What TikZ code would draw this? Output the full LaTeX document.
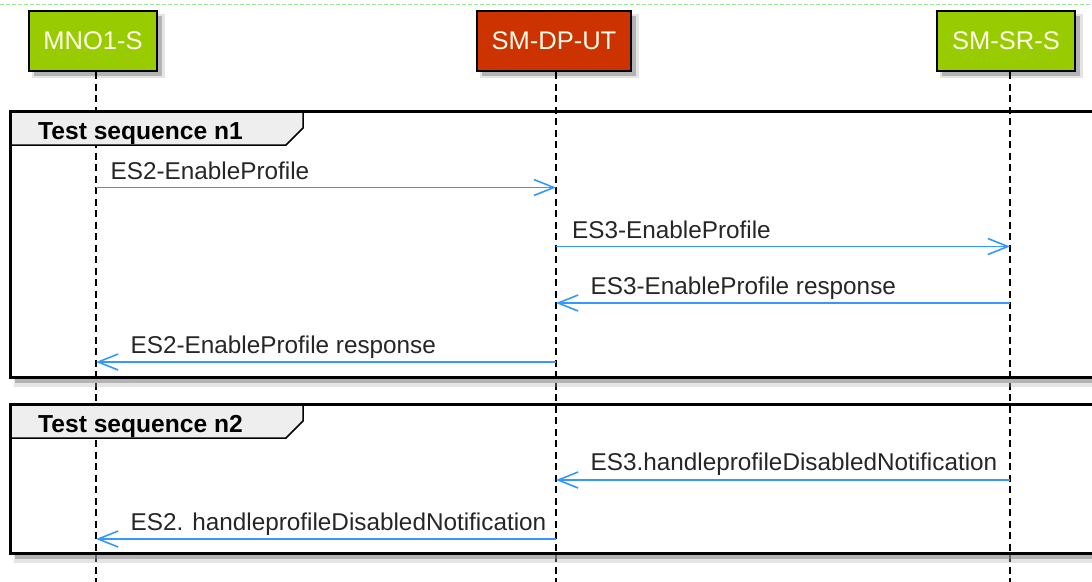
\documentclass[tikz,border=0pt]{standalone}
\usepackage{fontspec}
\setmainfont{Liberation Sans}
\usetikzlibrary{arrows.meta}
\definecolor{pgreen}{HTML}{99CC00}
\definecolor{pred}{HTML}{CC3300}
\definecolor{msgblue}{HTML}{3399FF}
\definecolor{tabgray}{HTML}{EEEEEE}
\definecolor{topgreen}{HTML}{9BE89B}
\tikzset{
  x=1pt, y=-1pt,
  participant/.style={draw=black, line width=2pt, minimum height=60pt, inner sep=0pt, text=white!92!yellow, font=\fontsize{25.5}{28}\selectfont},
  lifeline/.style={draw=black, line width=1.5pt, dash pattern=on 7pt off 4.5pt},
  msg/.style={draw=msgblue, line width=1.8pt, -{Straight Barb[length=20pt, width=16pt, line width=1.6pt]}},
  msglabel/.style={anchor=base west, inner sep=0pt, text=black!85, font=\fontsize{24.3}{28}\selectfont},
  frameline/.style={draw=black, line width=3pt},
  tabtitle/.style={anchor=base west, inner sep=0pt, font=\bfseries\fontsize{24.6}{28}\selectfont},
  shadowA/.style={fill=black!45, opacity=0.55},
  shadowB/.style={fill=black!30, opacity=0.35}
}
\begin{document}
\begin{tikzpicture}
\useasboundingbox (0,0) rectangle (1092,581);
\clip (0,0) rectangle (1092,581);
\fill[white] (0,0) rectangle (1092,581);
% top border line
\draw[topgreen, line width=1.5pt, dash pattern=on 4pt off 2pt] (0,4.5) -- (1092,4.5);

% participant shadows
\foreach \a/\b in {29/157, 477/631, 937/1075}{
  \fill[shadowB] (\a+3,14) rectangle (\b+8,78);
  \fill[shadowA] (\a+5,16) rectangle (\b+5,76);
}
% participants
\node[participant, fill=pgreen, minimum width=128pt] (mno) at (93,41) {MNO1-S};
\node[participant, fill=pred, minimum width=154pt] (dp) at (554,41) {SM-DP-UT};
\node[participant, fill=pgreen, minimum width=138pt] (sr) at (1006,41) {SM-SR-S};

% lifelines
\coordinate (mnoT) at (96,72); \coordinate (mnoB) at (96,585);
\coordinate (dpT) at (556,72); \coordinate (dpB) at (556,585);
\coordinate (srT) at (1010,72); \coordinate (srB) at (1010,585);
\draw[lifeline] (mnoT) -- (mnoB);
\draw[lifeline] (dpT) -- (dpB);
\draw[lifeline] (srT) -- (srB);

% frame 1
\fill[shadowB] (14,378) rectangle (1100,387);
\fill[shadowA] (15,378) rectangle (1100,383);
\draw[frameline] (10,111) rectangle (1110,377);
\filldraw[fill=tabgray, line width=1.5pt] (10,111) -- (303,111) -- (303,128) -- (286,145) -- (10,145) -- cycle;
\draw[frameline] (10,111) -- (1110,111);
\draw[frameline] (10,111) -- (10,377);
\node[tabtitle] (t1) at (38,139) {Test sequence n1};

% frame 2
\fill[shadowB] (14,554) rectangle (1100,563);
\fill[shadowA] (15,554) rectangle (1100,559);
\draw[frameline] (10,404) rectangle (1110,553);
\filldraw[fill=tabgray, line width=1.5pt] (10,404) -- (303,404) -- (303,421) -- (286,438) -- (10,438) -- cycle;
\draw[frameline] (10,404) -- (1110,404);
\draw[frameline] (10,404) -- (10,553);
\node[tabtitle] (t2) at (38,432) {Test sequence n2};

% message anchor points
\coordinate (m1a) at (96,187.5);  \coordinate (m1b) at (556,187.5);
\coordinate (m2a) at (556,246.5); \coordinate (m2b) at (1010,246.5);
\coordinate (m3a) at (1010,303);  \coordinate (m3b) at (556,303);
\coordinate (m4a) at (556,362);   \coordinate (m4b) at (96,362);
\coordinate (m5a) at (1010,480);  \coordinate (m5b) at (556,480);
\coordinate (m6a) at (556,539);   \coordinate (m6b) at (96,539);

\draw[msg] (m1a) -- (m1b);
\node[msglabel] (l1) at (110.5,179.3) {ES2-EnableProfile};
\draw[msg] (m2a) -- (m2b);
\node[msglabel] (l2) at (572,238) {ES3-EnableProfile};
\draw[msg] (m3a) -- (m3b);
\node[msglabel] (l3) at (590.5,294.5) {ES3-EnableProfile response};
\draw[msg] (m4a) -- (m4b);
\node[msglabel] (l4) at (130.5,353.5) {ES2-EnableProfile response};
\draw[msg] (m5a) -- (m5b);
\node[msglabel] (l5) at (590.5,470) {ES3.handleprofileDisabledNotification};
\draw[msg] (m6a) -- (m6b);
\node[msglabel] (l6) at (130.5,530) {ES2. handleprofileDisabledNotification};
\end{tikzpicture}
\end{document}
